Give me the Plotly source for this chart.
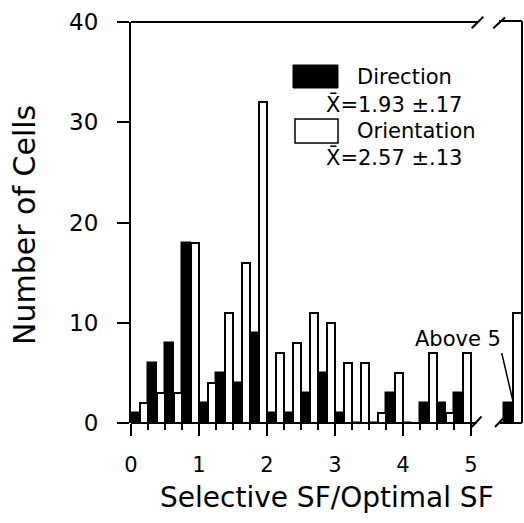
import plotly.graph_objects as go

# ---- data ----
bin_width = 0.25
bin_starts = [0.0, 0.25, 0.5, 0.75, 1.0, 1.25, 1.5, 1.75, 2.0, 2.25,
              2.5, 2.75, 3.0, 3.25, 3.5, 3.75, 4.0, 4.25, 4.5, 4.75]
direction = [1, 6, 8, 18, 2, 5, 4, 9, 1, 1, 3, 5, 1, 0, 0, 3, 0, 2, 2, 3]
orientation = [2, 3, 3, 18, 4, 11, 16, 32, 7, 8, 11, 10, 6, 6, 1, 5, 0, 7, 1, 7]
above5_direction = 2
above5_orientation = 11
x_ticks = [0, 1, 2, 3, 4, 5]
y_ticks = [0, 10, 20, 30, 40]
legend_labels = ["Direction", "Orientation"]
legend_stats = ["X\u0304=1.93 \u00b1.17", "X\u0304=2.57 \u00b1.13"]

FONT = "DejaVu Sans"
W, H = 524, 523
ML, MR, MT, MB = 131, 2, 22, 100
PW, PH = W - ML - MR, H - MT - MB
XMAX = PW / 68.0

def xp(px):
    return (px - ML) / PW

def yp(py):
    return (H - MB - py) / PH

half = bin_width / 2
above_pos = 5.55
above_w = 0.135

fig = go.Figure()
fig.add_trace(go.Bar(
    x=[b + half / 2 for b in bin_starts] + [above_pos],
    y=direction + [above5_direction],
    width=[half] * len(bin_starts) + [above_w],
    marker=dict(color="black", line=dict(color="black", width=1.5)),
    name=legend_labels[0], showlegend=False, hoverinfo="skip",
))
fig.add_trace(go.Bar(
    x=[b + 1.5 * half for b in bin_starts] + [above_pos + above_w],
    y=orientation + [above5_orientation],
    width=[half] * len(bin_starts) + [above_w],
    marker=dict(color="white", line=dict(color="black", width=2)),
    name=legend_labels[1], showlegend=False, hoverinfo="skip",
))

shapes = []
def seg(x0, y0, x1, y1, w=2):
    shapes.append(dict(type="line", xref="paper", yref="paper",
                       x0=xp(x0), y0=yp(y0), x1=xp(x1), y1=yp(y1),
                       line=dict(color="black", width=w)))

# bottom axis with break
seg(ML, 423, 476.5, 423)
seg(471.7, 427, 481.5, 416.5)
seg(495, 427, 505, 416.5)
seg(500, 423, W - MR, 423)
# top axis with break
seg(ML, 22, 477.5, 22)
seg(471.7, 28.3, 483.3, 16.7)
seg(493.3, 28.3, 505, 17.5)
seg(499, 21, W - MR, 21)
# right border
seg(W - MR, 21, W - MR, 423)
# "Above 5" pointer
seg(501.7, 353, 512.7, 400, 1.5)

# legend swatches
shapes.append(dict(type="rect", xref="paper", yref="paper",
                   x0=xp(293), x1=xp(338), y0=yp(88), y1=yp(65),
                   fillcolor="black", line=dict(color="black", width=1)))
shapes.append(dict(type="rect", xref="paper", yref="paper",
                   x0=xp(295), x1=xp(338), y0=yp(143), y1=yp(119),
                   fillcolor="white", line=dict(color="black", width=1.5)))

ann = []
def text(s, px, py, size, xanchor="left", angle=0):
    ann.append(dict(text=s, x=xp(px), y=yp(py), xref="paper", yref="paper",
                    xanchor=xanchor, yanchor="middle", showarrow=False,
                    textangle=angle, font=dict(family=FONT, size=size, color="black")))

text(legend_labels[0], 355, 76.5, 21)
text(legend_stats[0], 324, 104, 21)
text(legend_labels[1], 355, 131, 21)
text(legend_stats[1], 324, 157, 21)
text("Above 5", 457.5, 338.5, 21, xanchor="center")
text("Selective SF/Optimal SF", 326.5, 497, 28, xanchor="center")
text("Number of Cells", 24, 225, 30, xanchor="center", angle=-90)

minor_vals = [b for b in bin_starts if b not in x_ticks]

fig.update_layout(
    width=W, height=H,
    margin=dict(l=ML, r=MR, t=MT, b=MB, pad=0),
    paper_bgcolor="white", plot_bgcolor="white",
    barmode="overlay", bargap=0,
    shapes=shapes, annotations=ann,
    font=dict(family=FONT, size=20, color="black"),
    xaxis=dict(range=[0, XMAX], tickmode="array", tickvals=x_ticks,
               ticktext=[str(v) for v in x_ticks],
               ticks="outside", ticklen=12, tickwidth=2, tickcolor="black",
               showline=False, showgrid=False, zeroline=False,
               tickfont=dict(family=FONT, size=21, color="black"),
               ticklabelstandoff=11,
               minor=dict(tickmode="array", tickvals=minor_vals, ticks="outside",
                          ticklen=6, tickwidth=2, tickcolor="black", showgrid=False)),
    yaxis=dict(range=[0, 40], tickmode="array", tickvals=y_ticks,
               ticks="outside", ticklen=12, tickwidth=2, tickcolor="black",
               showline=True, linewidth=2, linecolor="black",
               showgrid=False, zeroline=False,
               tickfont=dict(family=FONT, size=23, color="black"),
               ticklabelstandoff=14),
)

fig.write_html("out.html", config={"displayModeBar": False},
               post_script="document.body.style.margin='0px';document.body.style.overflow='hidden';")
